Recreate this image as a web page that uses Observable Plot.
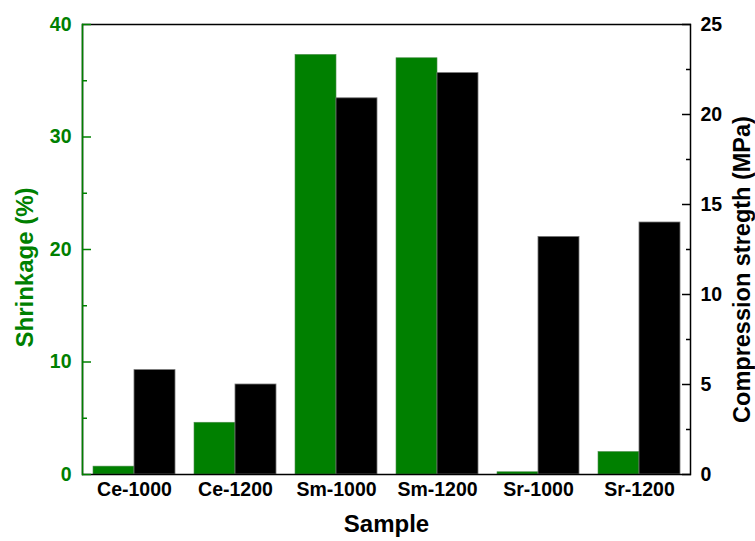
<!DOCTYPE html>
<html><head><meta charset="utf-8">
<script src="https://cdn.jsdelivr.net/npm/d3@7"></script>
<script src="https://cdn.jsdelivr.net/npm/@observablehq/plot@0.6"></script>
<style>body{margin:0;background:#fff} #chart svg{display:block}</style>
</head><body><div id="chart"></div>
<script>
const samples = ["Ce-1000", "Ce-1200", "Sm-1000", "Sm-1200", "Sr-1000", "Sr-1200"];
const shrinkage = [0.7, 4.6, 37.3, 37.0, 0.2, 2.0];
const compression = [5.8, 5.0, 20.9, 22.3, 13.2, 14.0];
const leftTicks = [0, 10, 20, 30, 40];
const leftMinor = [5, 15, 25, 35];
const rightTicks = [0, 5, 10, 15, 20, 25];
const rightMinor = [2.5, 7.5, 12.5, 17.5, 22.5];
const leftTitle = "Shrinkage (%)";
const rightTitle = "Compression stregth (MPa)";
const xTitle = "Sample";

const k = 40 / 25; // right-axis units -> left-axis units
const W = 755, H = 541, mL = 82, mR = 65, mT = 24, mB = 67;
const pIn = 0.193, pOut = 0.089;
const step = (W - mL - mR) / (samples.length - pIn + 2 * pOut);
const half = step * (1 - pIn) / 2;
const GREEN = "#008000";

const shrinkData = samples.map((s, i) => ({sample: s, value: shrinkage[i]}));
const compData = samples.map((s, i) => ({sample: s, value: compression[i] * k}));

const plot = Plot.plot({
  width: W, height: H,
  marginLeft: mL, marginRight: mR, marginTop: mT, marginBottom: mB,
  style: {fontFamily: "Arial, 'Liberation Sans', sans-serif", fontWeight: "bold", background: "#fff"},
  x: {domain: samples, paddingInner: pIn, paddingOuter: pOut, label: null},
  y: {domain: [0, 40], label: null},
  marks: [
    Plot.barY(shrinkData, {x: "sample", y: "value", fill: GREEN, insetRight: half, stroke: "#4f8f4f", strokeWidth: 0.6}),
    Plot.barY(compData, {x: "sample", y: "value", fill: "#000", insetLeft: half, stroke: "#777", strokeWidth: 0.8}),
    Plot.frame({stroke: "#000", strokeWidth: 1.5}),
    Plot.frame({anchor: "left", stroke: GREEN, strokeWidth: 1.5}),
    Plot.axisX({tickSize: 0, tickPadding: 8, fontSize: 19.5, fill: "#000", label: null}),
    Plot.axisY({ticks: leftTicks, tickSize: 0, tickPadding: 11, fontSize: 19.5, fill: GREEN, label: null}),
    Plot.axisY({ticks: leftTicks, text: null, tickSize: 9, dx: 9, stroke: GREEN, strokeWidth: 1.5, label: null}),
    Plot.axisY({ticks: leftMinor, text: null, tickSize: 5, dx: 5, stroke: GREEN, strokeWidth: 1.5, label: null}),
    Plot.axisY({anchor: "right", ticks: rightTicks.map(v => v * k), tickFormat: d => String(Math.round(d / k)), tickSize: 0, tickPadding: 10, fontSize: 19.5, fill: "#000", label: null}),
    Plot.axisY({anchor: "right", ticks: rightTicks.map(v => v * k), text: null, tickSize: 9, dx: -9, stroke: "#000", strokeWidth: 1.5, label: null}),
    Plot.axisY({anchor: "right", ticks: rightMinor.map(v => v * k), text: null, tickSize: 5, dx: -5, stroke: "#000", strokeWidth: 1.5, label: null}),
    Plot.text([leftTitle], {text: d => d, frameAnchor: "left", textAnchor: "middle", dx: -57, dy: 18, rotate: -90, fill: GREEN, fontSize: 24}),
    Plot.text([rightTitle], {text: d => d, frameAnchor: "right", textAnchor: "middle", dx: 52, dy: 20, rotate: -90, fill: "#000", fontSize: 23.5}),
    Plot.text([xTitle], {text: d => d, frameAnchor: "bottom", dy: 57, fill: "#000", fontSize: 24})
  ]
});
document.getElementById("chart").appendChild(plot);
</script>
</body></html>
